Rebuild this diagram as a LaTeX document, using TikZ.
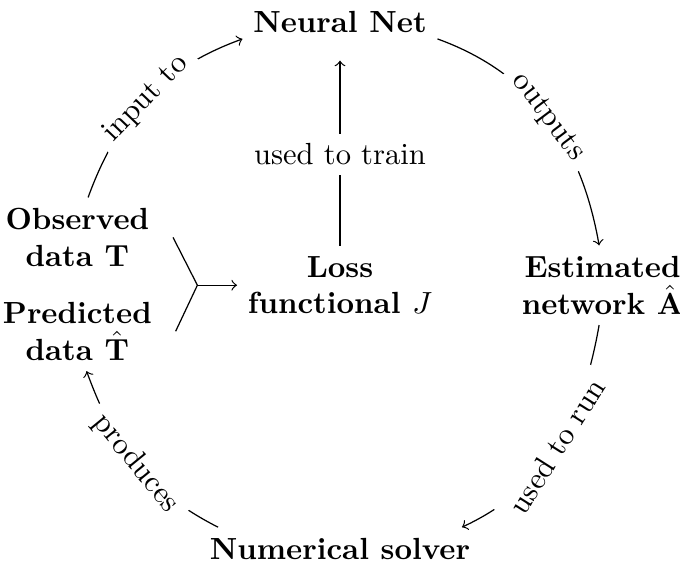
\documentclass[tikz,border=0pt]{standalone}
\usepackage{amsmath}
\usepackage{amssymb}
\usetikzlibrary{positioning}

\begin{document}
\begin{tikzpicture}[stage/.style={font=\bfseries,align=center},
	lbl/.style={midway,sloped,fill=white},
	flow/.style={->}]
\useasboundingbox (-3.91,-3.22) rectangle (3.91,3.28);
\node[stage] (nn) at (0,3.03) {Neural Net};
\node[stage] (est) at (3.02,0) {Estimated\\network $\hat{\mathbf{A}}$};
\node[stage] (ns) at (0,-3.03) {Numerical solver};
\node[stage] (obs) at (-3.02,0.55) {Observed\\data $\mathbf{T}$};
\node[stage] (pred) at (-3.02,-0.53) {Predicted\\data $\hat{\mathbf{T}}$};
\node[stage] (loss) at (0,0) {Loss\\functional $J$};
\coordinate (merge) at (-1.64,0);
\draw[flow] (obs.75) to[out=70,in=200] node[lbl] {input to} (nn.190);
\draw[flow] (nn.350) to[out=-20,in=100] node[lbl] {outputs} (est.95);
\draw[flow] (est.265) to[out=-100,in=25] node[lbl] {used to run} (ns.10);
\draw[flow] (ns.170) to[out=153,in=-70] node[lbl] {produces} (pred.283);
\draw ([xshift=1.5mm]obs.east) -- (merge) -- ([xshift=1.5mm]pred.east);
\draw[flow] (merge) -- (loss);
\draw[flow,shorten >=2mm] (loss) -- node[pos=0.45,fill=white] {used to train} (nn);
\end{tikzpicture}
\end{document}
